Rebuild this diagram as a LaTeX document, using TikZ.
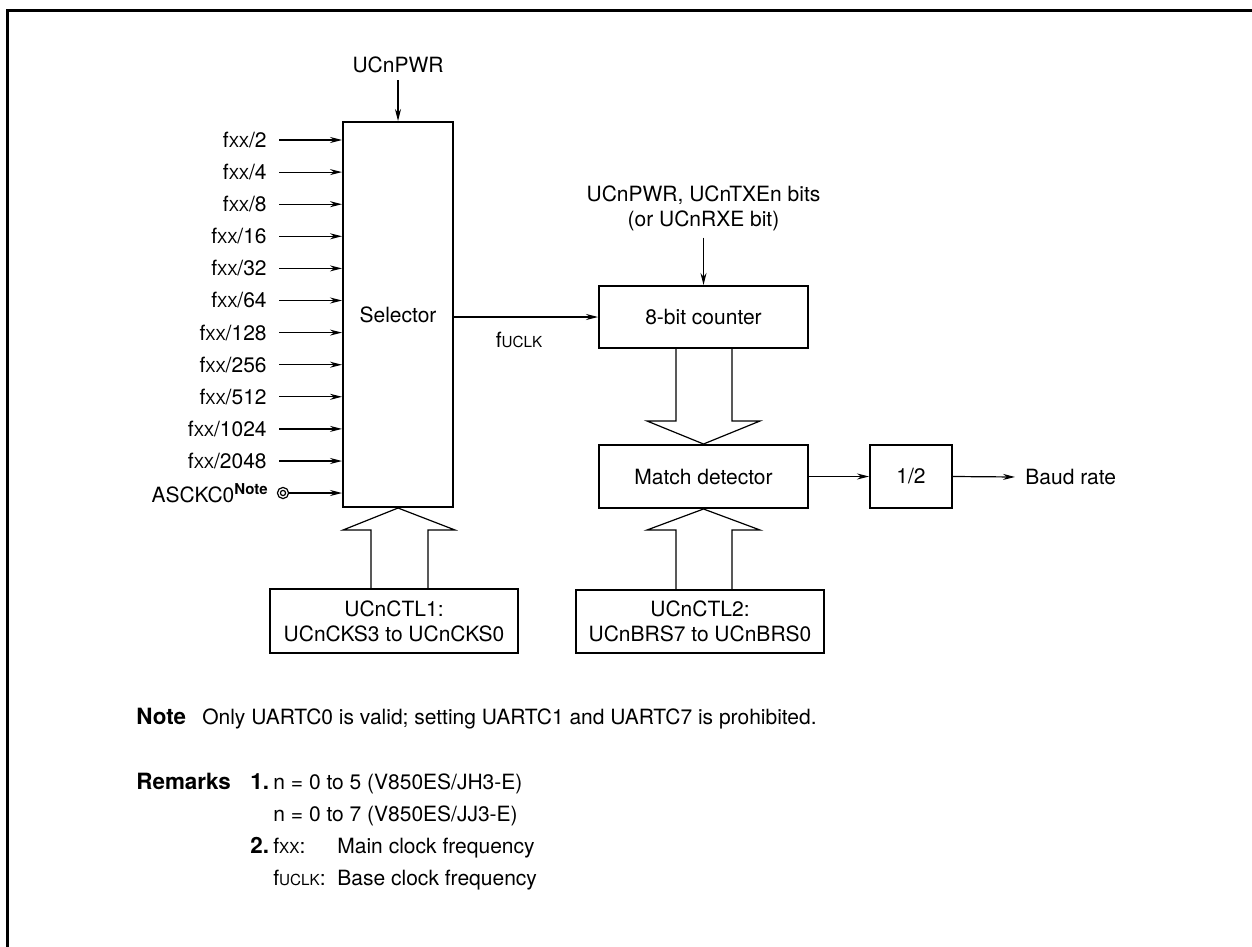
\documentclass[tikz,border=0pt]{standalone}
\usepackage{fontspec}
\setmainfont{TeX Gyre Heros}
\usetikzlibrary{arrows.meta}
\newcommand\myfxx{f{\fontsize{7.6}{9}\selectfont XX}}
\newcommand\myfuclk{f{\fontsize{7.6}{9}\selectfont UCLK}}
\begin{document}
\begin{tikzpicture}[x=0.5pt,y=-0.5pt,
  font=\fontsize{10.5}{12.5}\selectfont,
  box/.style={draw,line width=1pt,inner sep=0pt,align=center},
  arr/.style={line width=0.6pt,-{Stealth[length=6pt,width=3pt]}},
  lbl/.style={anchor=east,inner xsep=6pt,inner ysep=0pt},
  hollow/.style={line width=0.6pt,line join=miter},
  txt/.style={anchor=base west,inner sep=0pt},
  btxt/.style={anchor=base west,inner sep=0pt,font=\fontsize{11.2}{13}\selectfont\bfseries}]
\useasboundingbox (0,0) rectangle (1252,947);
\draw[line width=1.5pt] (1252,11) -- (7,11) -- (7,947);

% selector
\node[box,minimum width=55pt,minimum height=192.5pt] (sel) at (398,314.5) {Selector};
\node (pwr) at (398,65) {UCnPWR};
\draw[arr] (pwr.south) -- (sel.north);

\foreach \t [count=\i] in {2,4,8,16,32,64,128,256,512,1024,2048} {
  \node[lbl] (in\i) at (279,{140+(\i-1)*32.1}) {\myfxx/\t};
  \draw[arr] (in\i.east) -- (in\i.east -| sel.west);
}
\node[circle,draw,line width=0.6pt,minimum size=5.6pt,inner sep=0pt] (ck) at (283,493) {};
\draw[line width=0.6pt] (ck.center) circle (1.3pt);
\node[anchor=east,inner sep=0pt] (asc) at (268,493) {ASCKC0\raisebox{4.2pt}{\fontsize{7.5}{9}\selectfont\bfseries Note}};
\draw[arr] (ck.east) -- (ck.east -| sel.west);

% control 1
\node[box,minimum width=124pt,minimum height=32pt] (ctl1) at (394,621) {UCnCTL1:\\UCnCKS3 to UCnCKS0};
\draw[hollow] (371,589) -- (371,530) -- (343,530) -- (sel.south) -- (455,530) -- (428,530) -- (428,589);

% counter
\node[box,minimum width=104.5pt,minimum height=31pt] (cnt) at (703.5,317) {8-bit counter};
\node[align=center] (bits) at (703.5,208) {UCnPWR, UCnTXEn bits\\(or UCnRXE bit)};
\draw[arr] (bits.south) -- (bits.south |- cnt.north);
\draw[arr] (sel.east |- cnt.west) -- (cnt.west);
\node (fu) at (519,340) {\myfuclk};

% match detector
\node[box,minimum width=104.5pt,minimum height=31.5pt] (mat) at (703.5,476.5) {Match detector};
\draw[hollow] (676,348) -- (676,421) -- (647,421) -- (mat.north) -- (760,421) -- (732,421) -- (732,348);
\node[box,minimum width=41pt,minimum height=31.5pt] (half) at (911,476.5) {1/2};
\draw[arr] (mat.east) -- (half.west);
\node[anchor=west,inner xsep=5pt,inner ysep=0pt] (baud) at (1015,477) {Baud rate};
\draw[arr] (half.east) -- (baud.west);

% control 2
\node[box,minimum width=124pt,minimum height=31.5pt] (ctl2) at (700,621.5) {UCnCTL2:\\UCnBRS7 to UCnBRS0};
\draw[hollow] (676,590) -- (676,530) -- (647,530) -- (mat.south) -- (760,530) -- (732,530) -- (732,590);

% notes
\node[btxt] (note) at (136,724) {Note};
\node[txt] (notet) at (202,724) {Only UARTC0 is valid; setting UARTC1 and UARTC7 is prohibited.};
\node[btxt] (rem) at (136,789) {Remarks};
\node[btxt] (r1) at (250,789) {1.};
\node[txt] (r1a) at (273,789) {n = 0 to 5 (V850ES/JH3-E)};
\node[txt] (r1b) at (273,821) {n = 0 to 7 (V850ES/JJ3-E)};
\node[btxt] (r2) at (250,853) {2.};
\node[txt] (r2a) at (273,853) {\myfxx:};
\node[txt] (r2b) at (337,853) {Main clock frequency};
\node[txt] (r2c) at (273,885) {\myfuclk:};
\node[txt] (r2d) at (337,885) {Base clock frequency};
\end{tikzpicture}
\end{document}
